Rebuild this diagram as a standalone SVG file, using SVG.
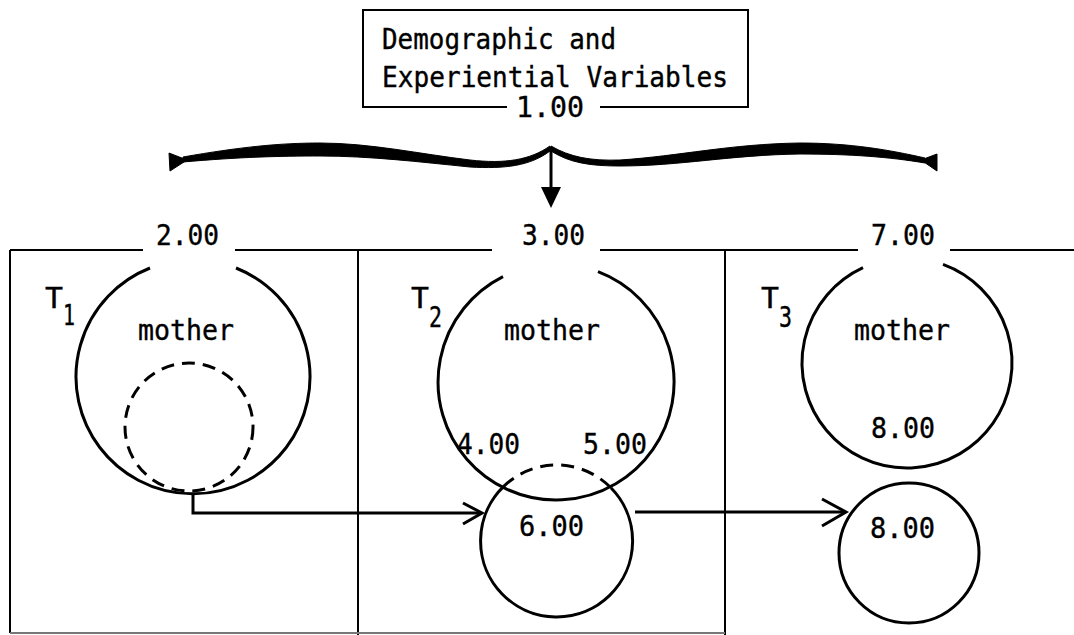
<svg xmlns="http://www.w3.org/2000/svg" width="1074" height="635" viewBox="0 0 1074 635">
<style>
.t{font-family:"DejaVu Sans Mono","Liberation Mono",monospace;font-size:29px;fill:#000;stroke:#000;stroke-width:0.4}
.m{text-anchor:middle}
.frame{fill:none;stroke:#000;stroke-width:2}
.circ{fill:none;stroke:#000;stroke-width:3}
.dash{fill:none;stroke:#000;stroke-width:3;stroke-dasharray:13 8}
.conn{fill:none;stroke:#000;stroke-width:3}
.brace{fill:#000;stroke:#000;stroke-width:1}
</style>
<rect width="1074" height="635" fill="#fff"/>

<g id="source-box">
<path class="frame" d="M507 107 H363 V10 H748 V107 H600" stroke-width="1.6"/>
<text class="t" x="382" y="49" textLength="234" lengthAdjust="spacingAndGlyphs">Demographic and</text>
<text class="t" x="382" y="87" textLength="346" lengthAdjust="spacingAndGlyphs">Experiential Variables</text>
<text class="t" x="516" y="117" textLength="68" lengthAdjust="spacingAndGlyphs">1.00</text>
</g>

<g id="brace">
<path class="brace" d="M183 157 C240 147,280 143,320 143 C370 143,420 154,470 160 C505 164,530 160,550 146 L550 151 C530 166,505 169,470 167 C420 162,370 156,320 156 C280 156,240 157,183 162 Z"/>
<path class="brace" d="M551 146 C570 157,590 161,620 160 C680 156,730 144,800 143 C850 143,890 150,925 158 L925 163 C890 157,850 154,800 154 C730 155,680 166,620 166 C590 166,570 163,551 151 Z"/>
<polygon class="brace" points="169,153 170,171 187,160"/>
<polygon class="brace" points="921,160 937,154 937,171"/>
</g>

<g id="panels">
<path class="frame" d="M10 250 H143 M235 250 H492 M600 250 H858 M950 250 H1074"/>
<path class="frame" d="M10 250 V633 M358 250 V635 M725 250 V635"/>
<path d="M10 633 H725" fill="none" stroke="#777" stroke-width="2"/>
</g>

<g id="node-T1">
<text class="t" x="156" y="245" textLength="63" lengthAdjust="spacingAndGlyphs">2.00</text>
<text class="t" x="45" y="308" textLength="18" lengthAdjust="spacingAndGlyphs">T</text>
<text class="t" x="63" y="325" textLength="12" lengthAdjust="spacingAndGlyphs">1</text>
<path class="circ" d="M150 268 A117 117 0 1 0 236 268"/>
<text class="t" x="138" y="340" textLength="96" lengthAdjust="spacingAndGlyphs">mother</text>
<circle class="dash" cx="189" cy="427" r="64"/>
</g>

<g id="node-T2">
<text class="t" x="522" y="245" textLength="63" lengthAdjust="spacingAndGlyphs">3.00</text>
<text class="t" x="411" y="308" textLength="18" lengthAdjust="spacingAndGlyphs">T</text>
<text class="t" x="429" y="327" textLength="13" lengthAdjust="spacingAndGlyphs">2</text>
<path class="circ" d="M503 276.6 A118 118 0 1 0 598 271.7"/>
<text class="t" x="504" y="340" textLength="96" lengthAdjust="spacingAndGlyphs">mother</text>
<text class="t" x="457" y="454" textLength="63" lengthAdjust="spacingAndGlyphs">4.00</text>
<text class="t" x="583" y="454" textLength="64" lengthAdjust="spacingAndGlyphs">5.00</text>
</g>

<g id="node-6">
<path class="circ" d="M503.7 486.4 A76 76 0 1 0 610.9 487.8"/>
<path class="dash" d="M503.7 486.4 A76 76 0 0 1 610.9 487.8"/>
<text class="t" x="519" y="536" textLength="65" lengthAdjust="spacingAndGlyphs">6.00</text>
</g>

<g id="node-T3">
<text class="t" x="871" y="245" textLength="64" lengthAdjust="spacingAndGlyphs">7.00</text>
<text class="t" x="761" y="308" textLength="18" lengthAdjust="spacingAndGlyphs">T</text>
<text class="t" x="779" y="327" textLength="13" lengthAdjust="spacingAndGlyphs">3</text>
<path class="circ" d="M863 267.7 A105 105 0 1 0 943 264.4"/>
<text class="t" x="854" y="340" textLength="96" lengthAdjust="spacingAndGlyphs">mother</text>
<text class="t" x="871" y="438" textLength="64" lengthAdjust="spacingAndGlyphs">8.00</text>
</g>

<g id="node-8">
<circle class="circ" cx="909" cy="553" r="70"/>
<text class="t" x="870" y="538" textLength="65" lengthAdjust="spacingAndGlyphs">8.00</text>
</g>

<g id="connectors">
<path class="conn" d="M551 147 V192" stroke-width="2.5"/>
<polygon points="541,187 561,187 551,208" fill="#000"/>
<path class="conn" d="M193 494 V513 H481"/>
<path class="conn" d="M463 503 L482 513 L463 524"/>
<path class="conn" d="M635 512 H845"/>
<path class="conn" d="M822 499 L846 512 L822 526"/>
</g>
</svg>
